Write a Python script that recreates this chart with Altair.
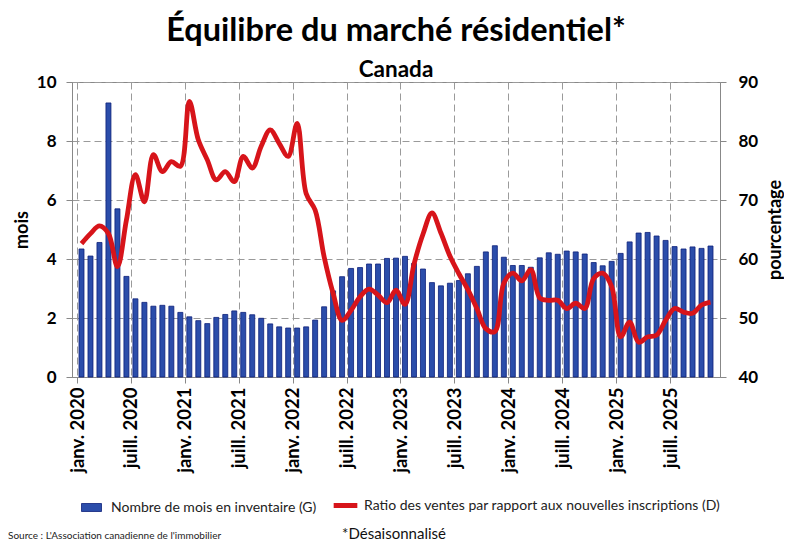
import altair as alt
import pandas as pd

# Monthly data, janv. 2020 -> nov. 2025
inventory = [4.34, 4.10, 4.56, 9.29, 5.70, 3.41, 2.65, 2.53, 2.40, 2.43, 2.40, 2.19,
             2.04, 1.91, 1.81, 2.02, 2.12, 2.24, 2.19, 2.11, 1.99, 1.80, 1.70, 1.66,
             1.66, 1.70, 1.93, 2.38, 2.92, 3.40, 3.68, 3.71, 3.83, 3.83, 4.02, 4.03,
             4.09, 3.85, 3.66, 3.20, 3.09, 3.18, 3.27, 3.50, 3.75, 4.24, 4.45, 4.06,
             3.78, 3.78, 3.72, 4.04, 4.21, 4.16, 4.27, 4.24, 4.17, 3.88, 3.77, 3.92,
             4.19, 4.58, 4.88, 4.90, 4.78, 4.63, 4.42, 4.34, 4.41, 4.36, 4.44]
snlr = [62.6, 64.3, 65.6, 64.3, 58.7, 66.6, 74.3, 69.7, 77.7, 74.8, 76.5, 75.7,
        86.7, 80.2, 76.8, 73.4, 74.8, 73.1, 77.4, 75.4, 79.1, 81.9, 79.6, 77.4,
        83.0, 71.1, 68.3, 60.4, 54.2, 49.6, 51.3, 53.6, 54.9, 53.9, 52.6, 54.7,
        52.3, 59.1, 64.2, 67.8, 64.4, 60.5, 57.5, 54.8, 51.6, 48.2, 47.7, 55.9,
        57.6, 56.3, 58.2, 53.4, 53.0, 53.0, 51.6, 52.5, 51.6, 56.7, 57.6, 55.3,
        46.8, 49.3, 45.9, 46.8, 47.1, 49.6, 51.6, 51.0, 50.8, 52.2, 52.7]
tick_labels = ["janv. 2020", "juill. 2020", "janv. 2021", "juill. 2021",
               "janv. 2022", "juill. 2022", "janv. 2023", "juill. 2023",
               "janv. 2024", "juill. 2024", "janv. 2025", "juill. 2025"]
bar_name = "Nombre de mois en inventaire (G)"
line_name = "Ratio des ventes par rapport aux nouvelles inscriptions (D)"
title_text = "Équilibre du marché résidentiel*"
subtitle_text = "Canada"
source_text = "Source : L'Association canadienne de l'immobilier"
note_text = "*Désaisonnalisé"

FONT = "Lato"
W, H = 648, 295
n = len(inventory)
df = pd.DataFrame({"idx": list(range(n)), "inv": inventory, "snlr": snlr,
                   "s_bar": [bar_name] * n, "s_line": [line_name] * n})

label_expr = "[" + ",".join("'%s'" % t for t in tick_labels) + "][round(datum.value/6)]"

x_enc = alt.X("pos:Q",
              scale=alt.Scale(domain=[0, n], nice=False, zero=False),
              axis=alt.Axis(values=list(range(0, n, 6)), labelExpr=label_expr,
                            labelAngle=270, labelAlign="right", labelBaseline="middle",
                            labelFont=FONT, labelFontSize=18.5, labelFontWeight="bold",
                            labelColor="black", labelPadding=4,
                            grid=True, gridDash=[7, 4], gridColor="#9a9a9a",
                            domainColor="#888888", tickColor="#888888", tickSize=6,
                            title=None))

base = alt.Chart(df).transform_calculate(pos="datum.idx + 0.5")

bars = base.mark_bar(size=5, stroke="#0d1f7a", strokeWidth=0.8).encode(
    x=x_enc,
    y=alt.Y("inv:Q", scale=alt.Scale(domain=[0, 10], nice=False),
            axis=alt.Axis(orient="left", values=[0, 2, 4, 6, 8, 10], title="mois",
                          titleFont=FONT, titleFontSize=18, titleFontWeight="bold",
                          titleColor="black", titleX=-50, titleY=H / 2,
                          titleAlign="center", titleBaseline="middle",
                          labelFont=FONT, labelFontSize=17, labelFontWeight="bold",
                          labelColor="black", labelPadding=10,
                          grid=True, gridDash=[7, 4], gridColor="#9a9a9a",
                          domainColor="#888888", tickColor="#888888", tickSize=6)),
    fill=alt.Fill("s_bar:N", scale=alt.Scale(domain=[bar_name], range=["#2b4daa"]),
                  legend=alt.Legend(title=None, orient="none", legendX=9, legendY=415,
                                    symbolType="M-1,-0.4L1,-0.4L1,0.4L-1,0.4Z",
                                    symbolSize=400, symbolStrokeColor="#0d1f7a",
                                    symbolStrokeWidth=0.8, labelFont=FONT,
                                    labelFontSize=14, labelColor="#222222",
                                    labelOffset=9, labelLimit=0)),
)

line = base.mark_line(strokeWidth=4.8, interpolate="catmull-rom").encode(
    x=alt.X("pos:Q"),
    y=alt.Y("snlr:Q", scale=alt.Scale(domain=[40, 90], nice=False, zero=False),
            axis=alt.Axis(orient="right", values=[40, 50, 60, 70, 80, 90],
                          title="pourcentage", titleAngle=270,
                          titleX=55, titleY=H / 2, titleAlign="center",
                          titleBaseline="middle",
                          titleFont=FONT, titleFontSize=18, titleFontWeight="bold",
                          titleColor="black",
                          labelFont=FONT, labelFontSize=17, labelFontWeight="bold",
                          labelColor="black", labelPadding=12, grid=False,
                          domainColor="#888888", tickColor="#888888", tickSize=6)),
    stroke=alt.Stroke("s_line:N", scale=alt.Scale(domain=[line_name], range=["#d7141a"]),
                      legend=alt.Legend(title=None, orient="none", legendX=259, legendY=409,
                                        symbolType="stroke", symbolSize=560,
                                        symbolStrokeWidth=5, labelFont=FONT,
                                        labelFontSize=14, labelColor="#222222",
                                        labelOffset=4, labelLimit=0)),
)

notes = alt.Chart(pd.DataFrame({"t": [source_text]})).mark_text(
    align="left", baseline="middle", font=FONT, fontSize=10, color="#222222"
).encode(text="t:N", x=alt.value(-64), y=alt.value(454))

note2 = alt.Chart(pd.DataFrame({"t": [note_text]})).mark_text(
    align="center", baseline="middle", font=FONT, fontSize=15, color="#111111"
).encode(text="t:N", x=alt.value(322), y=alt.value(452))

chart = alt.layer(bars, line, notes, note2).resolve_scale(
    y="independent", fill="independent", stroke="independent"
).properties(
    width=W, height=H,
    padding={"left": 64, "top": 74, "right": 64, "bottom": 170},
    autosize=alt.AutoSizeParams(type="none"),
    title=alt.Title(title_text, subtitle=subtitle_text, anchor="middle",
                    font=FONT, fontSize=32.5, fontWeight="bold", color="black",
                    subtitleFont=FONT, subtitleFontSize=22.5, subtitleFontWeight="bold",
                    subtitleColor="black", subtitlePadding=11, offset=-8),
).configure_view(stroke="#888888", strokeWidth=1)

chart.save("out.html", embed_options={"renderer": "svg", "actions": False})
